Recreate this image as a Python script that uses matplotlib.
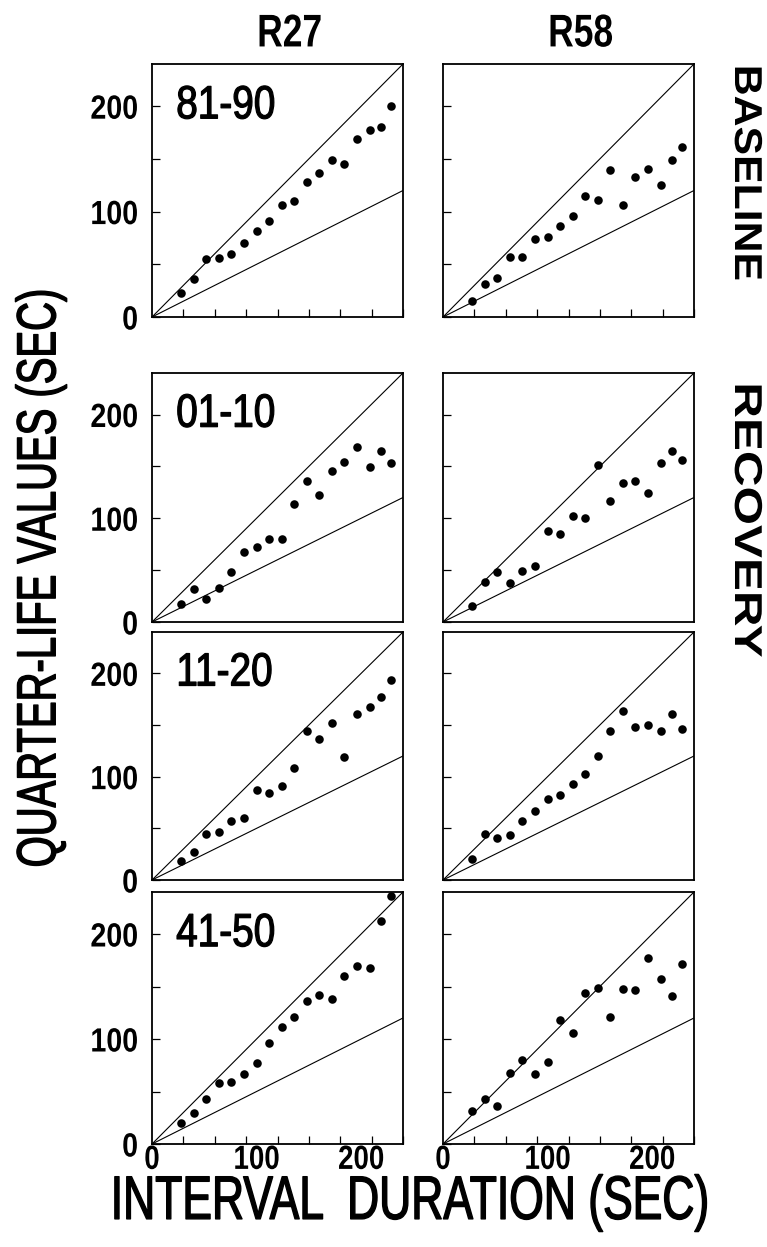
import numpy as np
import matplotlib
matplotlib.use('Agg')
import matplotlib.pyplot as plt
import matplotlib.patheffects as pe
from matplotlib.transforms import Affine2D
from matplotlib.ticker import MultipleLocator, FixedLocator

# interval durations (sec), the same 18 intervals in every panel
intervals = [28, 40, 52, 64, 76, 88, 100, 112, 124, 136, 148, 160, 172, 184, 196, 208, 219, 229]

# quarter-life values (sec)
r27_81_90 = [23, 36, 55, 56, 60, 70, 82, 91, 106, 110, 128, 137, 149, 145, 169, 177, 180, 200]
r58_81_90 = [15, 31, 37, 57, 57, 74, 76, 86, 96, 115, 111, 139, 106, 133, 140, 125, 149, 161]
r27_01_10 = [17, 32, 22, 33, 48, 67, 72, 80, 80, 114, 136, 122, 146, 154, 169, 149, 165, 153]
r58_01_10 = [15, 39, 48, 38, 49, 54, 88, 85, 102, 100, 151, 117, 134, 136, 124, 153, 165, 156]
r27_11_20 = [18, 27, 45, 46, 57, 60, 87, 84, 91, 108, 144, 136, 152, 119, 161, 167, 177, 194]
r58_11_20 = [20, 45, 41, 44, 57, 67, 78, 82, 93, 103, 120, 144, 164, 148, 150, 144, 161, 146]
r27_41_50 = [20, 30, 43, 58, 59, 67, 77, 96, 111, 121, 136, 142, 138, 160, 170, 168, 212, 236]
r58_41_50 = [31, 43, 36, 68, 80, 67, 78, 118, 106, 144, 149, 121, 148, 147, 177, 157, 141, 171]

rats = ['R27', 'R58']
sessions = ['81-90', '01-10', '11-20', '41-50']
grid = [[r27_81_90, r58_81_90],
        [r27_01_10, r58_01_10],
        [r27_11_20, r58_11_20],
        [r27_41_50, r58_41_50]]

ref_slopes = [1.0, 0.5]   # y = x and y = x/2 guide lines
axis_max = 240


class Squeeze(pe.AbstractPathEffect):
    # rescales glyphs in place (and optionally thickens them) to mimic
    # the tall condensed lettering of the original
    def __init__(self, sx=1.0, sy=1.0, anchor='center', stroke=0):
        super().__init__()
        self.sx = sx
        self.sy = sy
        self.anchor = anchor
        self.stroke = stroke

    def draw_path(self, renderer, gc, tpath, affine, rgbFace=None):
        ext = tpath.get_extents()
        if self.anchor == 'left':
            x0 = ext.x0
        elif self.anchor == 'right':
            x0 = ext.x1
        else:
            x0 = (ext.x0 + ext.x1) / 2
        y0 = (ext.y0 + ext.y1) / 2
        sq = Affine2D().translate(-x0, -y0).scale(self.sx, self.sy).translate(x0, y0)
        if self.stroke:
            gc0 = renderer.new_gc()
            gc0.copy_properties(gc)
            gc0.set_linewidth(self.stroke)
            gc0.set_foreground(rgbFace)
            renderer.draw_path(gc0, tpath, sq + affine, rgbFace)
            gc0.restore()
        else:
            renderer.draw_path(gc, tpath, sq + affine, rgbFace)


plt.rcParams['font.family'] = ['Liberation Sans', 'DejaVu Sans']

W, H = 767, 1247
fig = plt.figure(figsize=(W / 100, H / 100), dpi=100)

col_left = [152, 443]
col_w = 251
row_top = [64, 373, 632, 892]
row_bot = [317, 622, 880, 1144]

x_line = np.array([0, axis_max])

for r in range(4):
    for c in range(2):
        ax = fig.add_axes([col_left[c] / W, 1 - row_bot[r] / H,
                           col_w / W, (row_bot[r] - row_top[r]) / H])
        for s in ref_slopes:
            ax.plot(x_line, s * x_line, color='black', lw=0.8)
        ax.scatter(intervals, grid[r][c], s=38, color='black', linewidths=0,
                   zorder=3, clip_on=False)
        ax.set_xlim(0, axis_max)
        ax.set_ylim(0, axis_max)
        for sp in ax.spines.values():
            sp.set_linewidth(1.3)

        # y ticks every 50, labelled at 0/100/200 on the left column only
        ax.yaxis.set_major_locator(FixedLocator([0, 100, 200]))
        ax.yaxis.set_minor_locator(FixedLocator([50, 150]))
        ax.tick_params(axis='y', which='both', direction='in', length=6, width=0.9,
                       labelsize=21, pad=10, labelleft=(c == 0))
        # x ticks every 30 sec on the top and bottom rows
        ax.xaxis.set_major_locator(FixedLocator([0, 100, 200]))
        ax.xaxis.set_minor_locator(MultipleLocator(30))
        ax.tick_params(axis='x', which='major', length=0, labelsize=21, pad=1,
                       labelbottom=(r == 3))
        show_x = r in (0, 3)
        ax.tick_params(axis='x', which='minor', direction='in',
                       length=6 if show_x else 0, width=0.9)
        for lab in ax.get_yticklabels() + ax.get_xticklabels():
            lab.set_fontweight('bold')
        for lab in ax.get_yticklabels():
            lab.set_path_effects([Squeeze(0.98, 1.15, 'right')])
        for lab in ax.get_xticklabels():
            lab.set_path_effects([Squeeze(0.95, 1.15)])

        if c == 0:
            ax.text(23, 200, sessions[r], ha='left', va='center', fontsize=31,
                    path_effects=[Squeeze(0.9, 1.08, 'left', stroke=0.9)])

# column titles
for c in range(2):
    fig.text((col_left[c] + col_w / 2 + 12) / W, 1 - 34 / H, rats[c], ha='center',
             va='center', fontsize=30, fontweight='bold',
             path_effects=[Squeeze(0.85, 1.1)])

# condition labels on the right, reading downward
fig.text(745 / W, 1 - 65 / H, 'BASELINE', rotation=-90, ha='center', va='top',
         fontsize=28, fontweight='bold', path_effects=[Squeeze(1.1, 1.0, 'left')])
fig.text(745 / W, 1 - 383 / H, 'RECOVERY', rotation=-90, ha='center', va='top',
         fontsize=28, fontweight='bold', path_effects=[Squeeze(1.27, 1.0, 'left')])

fig.text(41 / W, 1 - 578 / H, 'QUARTER-LIFE VALUES (SEC)', rotation=90,
         ha='center', va='center', fontsize=36,
         path_effects=[Squeeze(0.8, 1.1, stroke=1.0)])
fig.text(410 / W, 1 - 1203 / H, 'INTERVAL  DURATION (SEC)', ha='center',
         va='center', fontsize=32, path_effects=[Squeeze(1.0, 1.38, stroke=1.0)])

fig.savefig('out.png', dpi=100)
